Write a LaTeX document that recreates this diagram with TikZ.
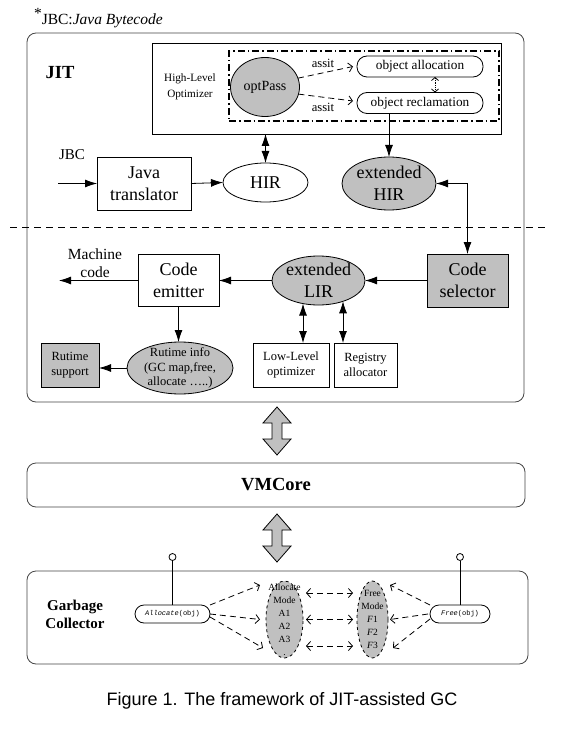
\documentclass[tikz,border=0pt]{standalone}
\usepackage{fontspec}
\setmainfont{Liberation Serif}
\setmonofont{Liberation Mono}
\newfontfamily\capfont{Liberation Sans}
\usetikzlibrary{arrows.meta,shapes.geometric,calc}
\definecolor{gfill}{RGB}{192,192,192}
\definecolor{frame}{RGB}{70,70,70}
\begin{document}
\begin{tikzpicture}[x=1pt,y=-1pt,
  every node/.style={inner sep=0pt,outer sep=0pt},
  line width=0.8pt,
  big/.style={font=\fontsize{18}{22}\selectfont,align=center},
  med/.style={font=\fontsize{12.5}{15}\selectfont,align=center},
  boxw/.style={draw,rectangle,fill=white},
  boxg/.style={draw,rectangle,fill=gfill},
  ellw/.style={draw,ellipse,fill=white,inner sep=-12pt},
  ellg/.style={draw,ellipse,fill=gfill,inner sep=-12pt},
  objnode/.style={draw,rectangle,rounded corners=10pt,minimum width=126pt,minimum height=21pt,font=\fontsize{13.3}{15}\selectfont},
  pill/.style={draw,rectangle,rounded corners=9pt,fill=white,minimum height=18pt,font=\fontsize{7}{8}\selectfont},
  outer/.style={draw=frame,rectangle,rounded corners=9pt},
  arr/.style={-{Latex[length=12pt,width=8pt]}},
  darr/.style={{Latex[length=12pt,width=8pt]}-{Latex[length=12pt,width=8pt]}},
  dasharr/.style={dash pattern=on 6pt off 4pt,-{Straight Barb[length=4pt,width=9pt]}},
  ddasharr/.style={dash pattern=on 6pt off 4pt,{Straight Barb[length=4pt,width=9pt]}-{Straight Barb[length=4pt,width=9pt]}},
  dotarr/.style={densely dotted,{Straight Barb[length=3pt,width=7pt]}-{Straight Barb[length=3pt,width=7pt]}},
  blockarr/.style={draw,fill=gfill,line width=0.8pt,line join=miter}
]
\fill[white] (0,0) rectangle (561,730);
\useasboundingbox (0,0) rectangle (561,730);

% title
\node[anchor=base west,font=\fontsize{15.5}{17}\selectfont] (ttl) at (34,25) {\raisebox{6pt}{*}JBC:\textit{Java Bytecode}};

% JIT frame
\node[outer,minimum width=497pt,minimum height=369pt] (jit) at (275.5,217.5) {};
\node[font=\bfseries\fontsize{18.5}{20}\selectfont] (jitlbl) at (60,73) {JIT};

% High-level optimizer
\node[draw,rectangle,minimum width=349pt,minimum height=91pt] (hlo) at (326.5,88.5) {};
\node[draw,rectangle,line width=1.1pt,dash pattern=on 7pt off 3pt on 1.5pt off 3pt,minimum width=270pt,minimum height=70pt] (dd) at (364,86) {};
\node[font=\fontsize{11.2}{16}\selectfont,align=center] (hlotxt) at (190,87) {High-Level\\Optimizer};
\node[ellg,minimum width=69pt,minimum height=59pt,font=\fontsize{14}{16}\selectfont] (opt) at (265,87) {optPass};
\node[objnode] (alloc) at (420,66.5) {object allocation};
\node[objnode] (recl) at (420,103) {object reclamation};
\draw[dotarr] ([xshift=15pt]alloc.south) -- ([xshift=15pt]recl.north);
\draw[dasharr] (opt.15) -- ([xshift=-4pt]alloc.west);
\draw[dasharr] (opt.-12) -- ([xshift=-4pt,yshift=2pt]recl.west);
\node[font=\fontsize{12.6}{14}\selectfont] (as1) at (323,63) {assit};
\node[font=\fontsize{12.6}{14}\selectfont] (as2) at (323,107) {assit};

% upper row
\node[ellw,minimum width=85pt,minimum height=39pt,big] (hir) at (265.5,182.5) {HIR};
\node[ellg,minimum width=94pt,minimum height=53pt,big] (ehir) at (389,183.5) {extended\\HIR};
\node[boxw,minimum width=94pt,minimum height=53pt,big] (jt) at (144,183.5) {Java\\translator};
\node[font=\fontsize{15}{17}\selectfont] (jbc) at (72,155) {JBC};
\coordinate (jbcin) at (58,183.5);
\draw[arr] (jbcin) -- (jt.west);
\draw[arr] (jt.east) -- (hir.west);
\draw[darr] (hir.north) -- (hir.north |- hlo.south);
\draw[arr] (ehir.north |- recl.south) -- (ehir.north);

% separator
\draw[dash pattern=on 7pt off 5pt] (10,227) -- (548,227);

% lower row
\node[boxg,minimum width=81pt,minimum height=53pt,big] (cs) at (467.5,280.5) {Code\\selector};
\node[ellg,minimum width=93pt,minimum height=49pt,big] (elir) at (318.5,280.5) {extended\\LIR};
\node[boxw,minimum width=81pt,minimum height=52pt,big] (ce) at (178.5,280.5) {Code\\emitter};
\node[font=\fontsize{15.5}{18}\selectfont,align=center] (mc) at (95,263) {Machine\\code};
\coordinate (mcout) at (59,280.5);
\draw[darr] (ehir.east) -| (cs.north);
\draw[arr] (cs.west) -- (elir.east);
\draw[arr] (elir.west) -- (ce.east);
\draw[arr] (ce.west) -- (mcout);

\node[ellg,minimum width=106pt,minimum height=52pt,med,font=\fontsize{12.5}{14.5}\selectfont] (ri) at (180,368) {Rutime info\\(GC map,free,\\allocate …..)};
\node[boxg,minimum width=58pt,minimum height=44pt,med] (rs) at (70,365) {Rutime\\support};
\node[boxw,minimum width=76pt,minimum height=44pt,med] (llo) at (291,365) {Low-Level\\optimizer};
\node[boxw,minimum width=63pt,minimum height=44pt,med] (ra) at (365.5,365) {Registry\\allocator};
\draw[arr] (ce.south) -- (ce.south |- ri.north);
\draw[arr] (ri.west) -- (ri.west -| rs.east);
\draw[darr] ([xshift=-15.5pt,yshift=-23.1pt]elir.center) -- ([xshift=12pt]llo.north);
\draw[darr] ([xshift=24.5pt,yshift=-20.8pt]elir.center) -- ([xshift=-22.5pt]ra.north);

% VMCore
\node[outer,minimum width=498pt,minimum height=44pt,font=\bfseries\fontsize{18.5}{20}\selectfont] (vm) at (276,485) {VMCore};

% block arrows
\draw[blockarr] (277,407) -- ++(14,16) -- ++(-9,0) -- ++(0,16) -- ++(9,0) -- ++(-14,16) -- ++(-14,-16) -- ++(9,0) -- ++(0,-16) -- ++(-9,0) -- cycle;
\draw[blockarr] (277,514) -- ++(14,16) -- ++(-9,0) -- ++(0,16) -- ++(9,0) -- ++(-14,16) -- ++(-14,-16) -- ++(9,0) -- ++(0,-16) -- ++(-9,0) -- cycle;

% Garbage collector
\node[outer,minimum width=501pt,minimum height=93pt] (gc) at (277.5,617.5) {};
\node[font=\bfseries\fontsize{15}{18}\selectfont,align=center] (gclbl) at (75,614) {Garbage\\Collector};
\node[pill,minimum width=75pt] (an) at (172.5,614) {\textit{\ttfamily Allocate}\texttt{(obj)}};
\node[pill,minimum width=60pt] (fn) at (460,614) {\textit{\ttfamily Free}\texttt{(obj)}};
\node[ellg,dashed,minimum width=37pt,minimum height=77pt,font=\fontsize{9.5}{13}\selectfont,align=center] (am) at (284.5,619.5) {Allocate\\Mode\\A1\\A2\\A3\\.};
\node[ellg,dashed,minimum width=31pt,minimum height=77pt,font=\fontsize{9.5}{13}\selectfont,align=center] (fm) at (372.5,619.5) {Free\\Mode\\\textit{F}1\\\textit{F}2\\\textit{F}3};
\node[circle,draw,fill=white,minimum size=7pt] (al) at (172.5,557) {};
\node[circle,draw,fill=white,minimum size=7pt] (fl) at (460,557) {};
\draw (an.north) -- (al.south);
\draw (fn.north) -- (fl.south);

\draw[dasharr] (an.north east) -- ([xshift=-24.5pt,yshift=34.5pt]am.center);
\draw[dasharr] (an.east) -- ([xshift=-24.5pt]am.center);
\draw[dasharr] ([yshift=-3pt]an.east) -- ([xshift=-21.5pt,yshift=-28.5pt]am.center);
\draw[ddasharr] ([xshift=21.5pt,yshift=26.5pt]am.center) -- ([xshift=-19.5pt,yshift=26.5pt]fm.center);
\draw[ddasharr] ([xshift=21.5pt]am.center) -- ([xshift=-19.5pt]fm.center);
\draw[ddasharr] ([xshift=21.5pt,yshift=-26.5pt]am.center) -- ([xshift=-19.5pt,yshift=-26.5pt]fm.center);
\draw[dasharr] (fn.north west) -- ([xshift=17.5pt,yshift=34.5pt]fm.center);
\draw[dasharr] ([xshift=-2pt]fn.west) -- ([xshift=17.5pt]fm.center);
\draw[dasharr] ([yshift=-5pt]fn.west) -- ([xshift=20.5pt,yshift=-28.5pt]fm.center);

% caption
\node[anchor=base,font=\capfont\fontsize{18}{20}\selectfont] (cap) at (282,705) {Figure 1. The framework of JIT-assisted GC};
\end{tikzpicture}
\end{document}
